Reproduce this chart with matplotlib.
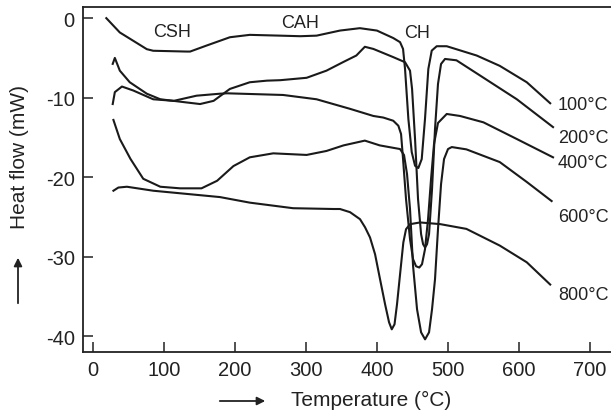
import matplotlib.pyplot as plt
from matplotlib.patches import FancyArrowPatch

plt.rcParams['font.family'] = ['Liberation Sans', 'DejaVu Sans']
plt.rcParams['axes.unicode_minus'] = False

# DSC curves: temperature (°C) and heat flow (mW)
t100 = [19, 38, 76, 85, 132, 137, 160, 193, 221, 264, 292, 315, 348, 376, 400, 423, 432.6, 436.8,
        439.6, 444.3, 449.0, 453.7, 458.3, 463.1, 467.7, 472.4, 477.2, 484.2, 498.3, 540.5, 573, 611, 644]
h100 = [0, -1.8, -3.9, -4.1, -4.2, -4.2, -3.45, -2.4, -2.1, -2.2, -2.27, -2.2, -1.56, -1.26, -1.56,
        -2.5, -3.02, -3.87, -6.39, -12.68, -16.84, -18.56, -18.85, -17.72, -12.68, -6.39, -4.08, -3.53,
        -3.53, -4.7, -6.0, -8.06, -10.7]

t200 = [28, 31, 38, 52, 76, 95, 132, 151, 170, 193, 221, 245, 264, 301, 329, 353, 371, 383, 395,
        423, 439.6, 446.6, 449.5, 453.7, 457.9, 462.2, 465.0, 467.8, 470.6, 473.4, 477.6, 481.8, 486.0,
        490.3, 495.9, 512, 545, 597, 648]
h200 = [-5.75, -5.0, -6.6, -8.06, -9.5, -10.2, -10.6, -10.8, -10.4, -8.9, -8.06, -7.86, -7.8, -7.5,
        -6.6, -5.5, -4.7, -3.6, -3.87, -4.9, -5.54, -6.6, -8.9, -15.2, -22.76, -27.16, -28.42, -28.84,
        -28.42, -27.16, -21.5, -13.94, -8.27, -5.76, -5.13, -5.3, -7.2, -10.2, -13.7]

t400 = [28, 31, 41, 57, 85, 114, 146, 179, 189, 268, 315, 362, 395, 409, 423, 430.2, 434.0, 436.8,
        441.0, 446.6, 450.9, 455.1, 459.7, 463.5, 467.7, 472.0, 476.2, 480.4, 486.0, 498.3, 517, 550,
        597, 648]
h400 = [-10.8, -9.3, -8.6, -9.1, -10.2, -10.4, -9.75, -9.5, -9.45, -9.66, -10.2, -11.4, -12.3, -12.5,
        -12.9, -13.53, -14.57, -17.72, -22.76, -27.79, -30.31, -31.2, -31.36, -30.94, -29.06, -25.28,
        -20.24, -15.83, -13.18, -12.05, -12.3, -13.1, -15.2, -17.5]

t600 = [29, 38, 53, 71, 95, 123, 153, 175, 198, 221, 254, 301, 329, 353, 383, 404, 432.6, 438.2,
        442.4, 446.6, 450.9, 456.5, 462.2, 467.8, 473.4, 477.6, 481.8, 486.0, 490.3, 494.5, 500.1,
        505.4, 526, 573, 611, 646]
h600 = [-12.8, -15.2, -17.7, -20.2, -21.2, -21.4, -21.4, -20.45, -18.6, -17.5, -17.0, -17.2, -16.7,
        -16.0, -15.4, -16.0, -16.46, -17.22, -19.61, -24.0, -31.16, -36.61, -39.51, -40.39, -39.51,
        -36.61, -32.84, -26.54, -20.87, -17.72, -16.46, -16.21, -16.5, -18.1, -20.6, -23.0]

t800 = [29, 36, 48, 85, 132, 179, 221, 282, 339, 348, 362.2, 376.2, 383.3, 390.3, 397.4, 404.4,
        411.5, 417.1, 420.9, 424.8, 428.3, 432.6, 437.2, 441.0, 446.6, 460.7, 489, 526, 573, 611, 644]
h800 = [-21.7, -21.3, -21.2, -21.7, -22.1, -22.5, -23.2, -23.9, -24.0, -24.0, -24.4, -25.28, -26.3,
        -27.58, -29.69, -32.83, -35.98, -38.25, -39.13, -38.5, -35.98, -32.2, -28.21, -26.54, -25.91,
        -25.69, -25.9, -26.5, -28.6, -30.7, -33.5]

series = [(t100, h100, '100°C', -10.8), (t200, h200, '200°C', -15.0), (t400, h400, '400°C', -18.1),
          (t600, h600, '600°C', -24.9), (t800, h800, '800°C', -34.7)]

peaks = [('CSH', 111, -1.7), ('CAH', 292, -0.5), ('CH', 456, -1.8)]

fig = plt.figure(figsize=(6.11, 4.14), dpi=100)
ax = fig.add_axes([0.136, 0.147, 0.864, 0.834])

for t, h, lab, ly in series:
    ax.plot(t, h, color='#1a1a1a', lw=1.5, solid_joinstyle='round')
    ax.text(655, ly, lab, fontsize=13, ha='left', va='center', color='#222222')

for name, x, y in peaks:
    ax.text(x, y, name, fontsize=13, ha='center', va='center', color='#222222')

ax.set_xlim(-13.7, 729.6)
ax.set_ylim(-42.0, 1.42)
ax.set_xticks([0, 100, 200, 300, 400, 500, 600, 700])
ax.set_yticks([0, -10, -20, -30, -40])
ax.tick_params(direction='in', length=7, width=1.1, labelsize=14.5, colors='#222222', pad=6)
ax.spines['right'].set_visible(False)
for s in ['left', 'bottom', 'top']:
    ax.spines[s].set_linewidth(1.3)
    ax.spines[s].set_color('#222222')

# axis titles with arrows
fig.text(371 / 611, 1 - 400 / 414, 'Temperature (°C)', fontsize=15, ha='center', va='center',
         color='#222222')
fig.text(20 / 611, 1 - 157 / 414, 'Heat flow (mW)', fontsize=15, ha='center', va='center',
         rotation=90, color='#222222')
fig.add_artist(FancyArrowPatch(
    (217 / 611, 1 - 402 / 414), (268 / 611, 1 - 402 / 414), transform=fig.transFigure,
    arrowstyle='-|>', mutation_scale=12, lw=1.3, color='#222222'))
fig.add_artist(FancyArrowPatch(
    (18 / 611, 1 - 307 / 414), (18 / 611, 1 - 256 / 414), transform=fig.transFigure,
    arrowstyle='-|>', mutation_scale=12, lw=1.3, color='#222222'))

fig.savefig('out.png', dpi=100)
